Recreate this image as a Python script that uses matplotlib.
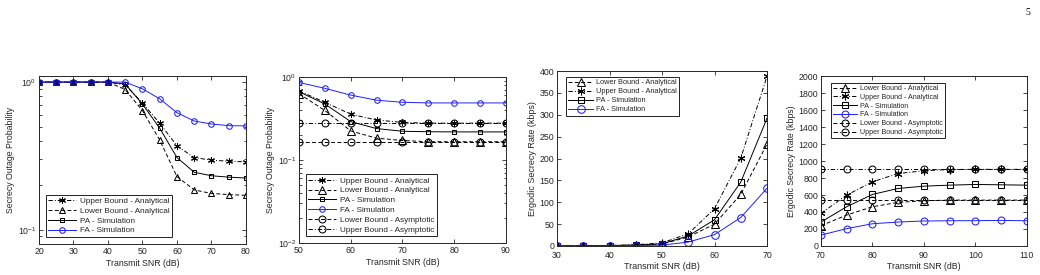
import matplotlib
matplotlib.use("Agg")
import matplotlib.pyplot as plt
from matplotlib.ticker import LogLocator, MultipleLocator, NullFormatter

plt.rcParams['font.family'] = ['Liberation Sans', 'DejaVu Sans']
plt.rcParams['mathtext.default'] = 'regular'

# ---------------- Data ----------------
# Panel 1: Secrecy outage probability vs SNR (20..80)
snr1 = [20, 25, 30, 35, 40, 45, 50, 55, 60, 65, 70, 75, 80]
p1_ub = [1, 1, 1, 1, 1, 0.96, 0.72, 0.526, 0.37, 0.308, 0.296, 0.291, 0.288]
p1_lb = [1, 1, 1, 1, 1, 0.89, 0.64, 0.405, 0.229, 0.186, 0.176, 0.173, 0.171]
p1_pa = [1, 1, 1, 1, 1, 0.97, 0.71, 0.487, 0.308, 0.245, 0.232, 0.227, 0.224]
p1_fa = [1, 1, 1, 1, 1, 1.0, 0.90, 0.77, 0.62, 0.545, 0.52, 0.507, 0.505]

# Panel 2: Secrecy outage probability vs SNR (50..90)
snr2 = [50, 55, 60, 65, 70, 75, 80, 85, 90]
p2_ub = [0.68, 0.496, 0.356, 0.303, 0.284, 0.278, 0.278, 0.278, 0.278]
p2_lb = [0.63, 0.395, 0.224, 0.183, 0.172, 0.166, 0.166, 0.166, 0.166]
p2_pa = [0.665, 0.473, 0.29, 0.239, 0.222, 0.219, 0.218, 0.218, 0.218]
p2_fa = [0.86, 0.73, 0.605, 0.525, 0.496, 0.487, 0.487, 0.487, 0.487]
p2_lb_asym = [0.165] * 9
p2_ub_asym = [0.278] * 9

# Panel 3: Ergodic secrecy rate vs SNR (30..70)
snr3 = [30, 35, 40, 45, 50, 55, 60, 65, 70]
p3_lb = [0.1, 0.3, 1, 2, 4.5, 20.6, 50, 118, 233]
p3_ub = [0.1, 0.3, 1, 3, 7, 28, 85, 201, 388]
p3_pa = [0.1, 0.3, 1, 2, 5, 23, 60, 146, 292]
p3_fa = [0.05, 0.1, 0.3, 0.8, 2, 9, 26, 65, 132]

# Panel 4: Ergodic secrecy rate vs SNR (70..110)
snr4 = [70, 75, 80, 85, 90, 95, 100, 105, 110]
p4_lb = [239, 364, 462, 513, 532, 540, 540, 540, 540]
p4_ub = [384, 599, 755, 853, 885, 900, 902, 902, 902]
p4_pa = [282, 462, 607, 677, 704, 716, 724, 720, 716]
p4_fa = [129, 204, 262, 282, 294, 297, 298, 301, 297]
p4_lb_asym = [545] * 9
p4_ub_asym = [904] * 9

# ---------------- Styles ----------------
TXT = '#262626'
BLUE = '#1f1fff'
DASH = (0, (4, 2.5))
DASHDOT = (0, (4.5, 2, 1, 2))
STAR = (6, 2, 0)
LW = 0.7

fig = plt.figure(figsize=(10.4, 2.75), dpi=100)

def style_axes(ax, xpad=2):
    ax.tick_params(which='both', direction='in', top=True, right=True,
                   labelsize=6.3, colors=TXT, width=0.6, pad=2)
    ax.tick_params(axis='x', which='both', pad=xpad)
    ax.tick_params(which='major', length=3)
    ax.tick_params(which='minor', length=1.8)
    for s in ax.spines.values():
        s.set_color(TXT)
        s.set_linewidth(0.7)

def line(ax, x, y, ls, marker, ms, color='black', label=None):
    ax.plot(x, y, linestyle=ls, color=color, lw=LW, marker=marker, ms=ms,
            mfc='none', mec=color, mew=0.75, label=label)

def legend(ax, loc, anchor, fs):
    lg = ax.legend(loc=loc, bbox_to_anchor=anchor, borderaxespad=0,
                   fontsize=fs, fancybox=False, framealpha=1, edgecolor='#222222',
                   handlelength=3.4, handletextpad=0.4, labelspacing=0.25,
                   borderpad=0.3)
    lg.get_frame().set_linewidth(0.7)
    for t in lg.get_texts():
        t.set_color(TXT)

# Panel 1
ax1 = fig.add_axes([0.0375, 0.1127, 0.199, 0.611])
line(ax1, snr1, p1_ub, DASHDOT, STAR, 5, label='Upper Bound - Analytical')
line(ax1, snr1, p1_lb, DASH, '^', 4, label='Lower Bound - Analytical')
line(ax1, snr1, p1_pa, '-', 's', 3.2, label='PA - Simulation')
line(ax1, snr1, p1_fa, '-', 'o', 4, color=BLUE, label='FA - Simulation')
ax1.set_yscale('log')
ax1.set_xlim(20, 80)
ax1.set_ylim(0.08, 1.1)
ax1.xaxis.set_major_locator(MultipleLocator(10))
ax1.yaxis.set_major_locator(LogLocator(base=10, numticks=5))
ax1.yaxis.set_minor_locator(LogLocator(base=10, subs=range(2, 10), numticks=10))
ax1.yaxis.set_minor_formatter(NullFormatter())
ax1.set_xlabel('Transmit SNR (dB)', fontsize=6.3, color=TXT, labelpad=2)
ax1.set_ylabel('Secrecy Outage Probability', fontsize=6.3, color=TXT, labelpad=2)
style_axes(ax1)
legend(ax1, 'lower left', (0.034, 0.042), 5.9)

# Panel 2
ax2 = fig.add_axes([0.2875, 0.1164, 0.199, 0.6036])
line(ax2, snr2, p2_ub, DASHDOT, STAR, 5, label='Upper Bound - Analytical')
line(ax2, snr2, p2_lb, DASH, '^', 6, label='Lower Bound - Analytical')
line(ax2, snr2, p2_pa, '-', 's', 3.2, label='PA - Simulation')
line(ax2, snr2, p2_fa, '-', 'o', 4, color=BLUE, label='FA - Simulation')
line(ax2, snr2, p2_lb_asym, DASH, 'o', 5, label='Lower Bound - Asymptotic')
line(ax2, snr2, p2_ub_asym, DASHDOT, 'o', 5, label='Upper Bound - Asymptotic')
ax2.set_yscale('log')
ax2.set_xlim(50, 90)
ax2.set_ylim(0.01, 1)
ax2.xaxis.set_major_locator(MultipleLocator(10))
ax2.yaxis.set_major_locator(LogLocator(base=10, numticks=5))
ax2.yaxis.set_minor_locator(LogLocator(base=10, subs=range(2, 10), numticks=10))
ax2.yaxis.set_minor_formatter(NullFormatter())
ax2.set_xlabel('Transmit SNR (dB)', fontsize=6.3, color=TXT, labelpad=2)
ax2.set_ylabel('Secrecy Outage Probability', fontsize=6.3, color=TXT, labelpad=2)
style_axes(ax2)
legend(ax2, 'lower left', (0.034, 0.042), 5.9)

# Panel 3
ax3 = fig.add_axes([0.5356, 0.1055, 0.2019, 0.636])
line(ax3, snr3, p3_lb, DASH, '^', 5.5, label='Lower Bound - Analytical')
line(ax3, snr3, p3_ub, DASHDOT, STAR, 5.5, label='Upper Bound - Analytical')
line(ax3, snr3, p3_pa, '-', 's', 4.5, label='PA - Simulation')
line(ax3, snr3, p3_fa, '-', 'o', 5.5, color=BLUE, label='FA - Simulation')
ax3.set_xlim(30, 70)
ax3.set_ylim(0, 400)
ax3.xaxis.set_major_locator(MultipleLocator(10))
ax3.yaxis.set_major_locator(MultipleLocator(50))
ax3.set_xlabel('Transmit SNR (dB)', fontsize=6.5, color=TXT, labelpad=1.5)
ax3.set_ylabel('Ergodic Secrecy Rate (kbps)', fontsize=6.5, color=TXT, labelpad=2)
style_axes(ax3, xpad=3.5)
legend(ax3, 'upper left', (0.043, 0.966), 5.3)

# Panel 4
ax4 = fig.add_axes([0.7894, 0.1055, 0.198, 0.618])
line(ax4, snr4, p4_lb, DASH, '^', 6, label='Lower Bound - Analytical')
line(ax4, snr4, p4_ub, DASHDOT, STAR, 5.5, label='Upper Bound - Analytical')
line(ax4, snr4, p4_pa, '-', 's', 4, label='PA - Simulation')
line(ax4, snr4, p4_fa, '-', 'o', 5, color=BLUE, label='FA - Simulation')
line(ax4, snr4, p4_lb_asym, DASH, 'o', 5, label='Lower Bound - Asymptotic')
line(ax4, snr4, p4_ub_asym, DASHDOT, 'o', 5, label='Upper Bound - Asymptotic')
ax4.set_xlim(70, 110)
ax4.set_ylim(0, 2000)
ax4.xaxis.set_major_locator(MultipleLocator(10))
ax4.yaxis.set_major_locator(MultipleLocator(200))
ax4.set_xlabel('Transmit SNR (dB)', fontsize=6.3, color=TXT, labelpad=1.5)
ax4.set_ylabel('Ergodic Secrecy Rate (kbps)', fontsize=6.3, color=TXT, labelpad=2)
style_axes(ax4, xpad=3.5)
legend(ax4, 'upper left', (0.048, 0.959), 5.1)

fig.text(0.991, 0.955, '5', fontsize=7, ha='right', va='center', color='black',
         family='Liberation Serif')

fig.savefig('out.png', dpi=100)
